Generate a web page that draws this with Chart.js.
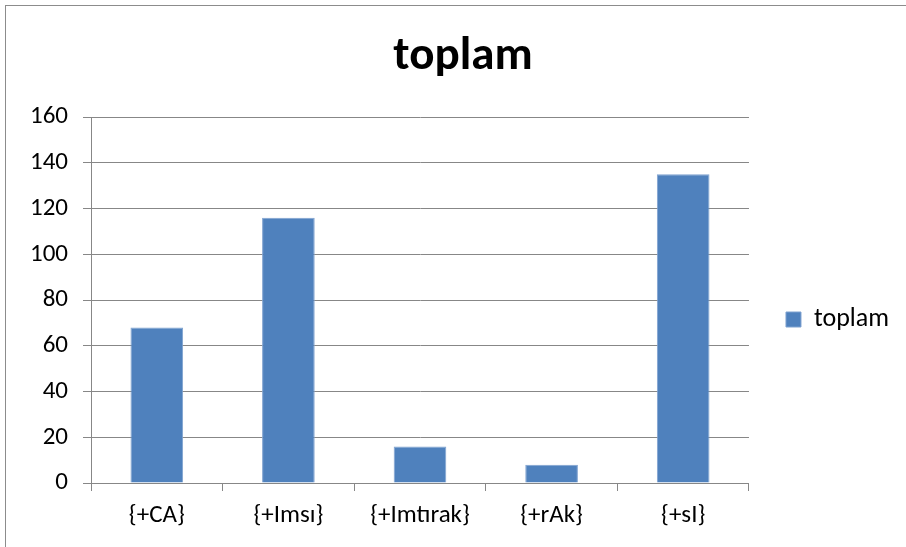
<!DOCTYPE html>
<html>
<head>
<meta charset="utf-8">
<script src="https://cdn.jsdelivr.net/npm/chart.js@4.4.1/dist/chart.umd.min.js"></script>
<style>
  html, body { margin: 0; padding: 0; background: #fff; }
  #frame {
    position: absolute; left: 5px; top: 5px; width: 910px; height: 560px;
    border: 1px solid #8c8c8c; box-sizing: border-box;
  }
  #wrap { position: absolute; left: 0; top: 0; width: 906px; height: 547px; }
</style>
</head>
<body>
<div id="frame"></div>
<div id="wrap"><canvas id="c" width="906" height="547"></canvas></div>
<script>
// Suffix counts
const categories = ['{+CA}', '{+Imsı}', '{+Imtırak}', '{+rAk}', '{+sI}'];
const toplam = [68, 116, 16, 8, 135];
const yTicks = [0, 20, 40, 60, 80, 100, 120, 140, 160];

const FONT = 'Carlito, Lato, "Open Sans", sans-serif';
const GRID = '#878787';

// Move the right-hand legend a little below the vertical centre
const legendNudge = {
  id: 'legendNudge',
  afterLayout(chart) {
    const lg = chart.legend;
    if (lg) { lg.top += 49; lg.bottom += 49; }
  }
};

new Chart(document.getElementById('c'), {
  type: 'bar',
  data: {
    labels: categories,
    datasets: [{
      label: 'toplam',
      data: toplam,
      backgroundColor: '#4f81bd',
      borderColor: '#7fa2d0',
      borderWidth: 1,
      categoryPercentage: 1.0,
      barPercentage: 0.4
    }]
  },
  plugins: [legendNudge],
  options: {
    responsive: false,
    animation: false,
    devicePixelRatio: 1,
    layout: { padding: { left: 27, right: 7, top: 0, bottom: 6 } },
    plugins: {
      title: {
        display: true,
        text: 'toplam',
        color: '#000',
        font: { family: FONT, size: 47, weight: 'bold' },
        padding: { top: 29, bottom: 31.6 }
      },
      legend: {
        display: true,
        position: 'right',
        align: 'center',
        maxWidth: 158,
        labels: {
          color: '#000',
          font: { family: FONT, size: 26 },
          boxWidth: 15,
          boxHeight: 15,
          padding: 37
        }
      },
      tooltip: { enabled: false }
    },
    scales: {
      x: {
        offset: true,
        grid: {
          offset: true,
          drawOnChartArea: false,
          drawTicks: true,
          tickLength: 8,
          color: GRID,
          lineWidth: 1
        },
        border: { color: GRID, width: 1 },
        ticks: {
          color: '#000',
          font: { family: FONT, size: 25 },
          padding: 10,
          maxRotation: 0
        }
      },
      y: {
        min: 0,
        max: 160,
        afterBuildTicks: (s) => { s.ticks = yTicks.map(v => ({ value: v })); },
        afterFit: (s) => { s.width = 64; },
        grid: {
          color: GRID,
          lineWidth: 1,
          tickLength: 8,
          drawTicks: true
        },
        border: { color: GRID, width: 1 },
        ticks: {
          color: '#000',
          font: { family: FONT, size: 25 },
          padding: 15
        }
      }
    }
  }
});
</script>
</body>
</html>
